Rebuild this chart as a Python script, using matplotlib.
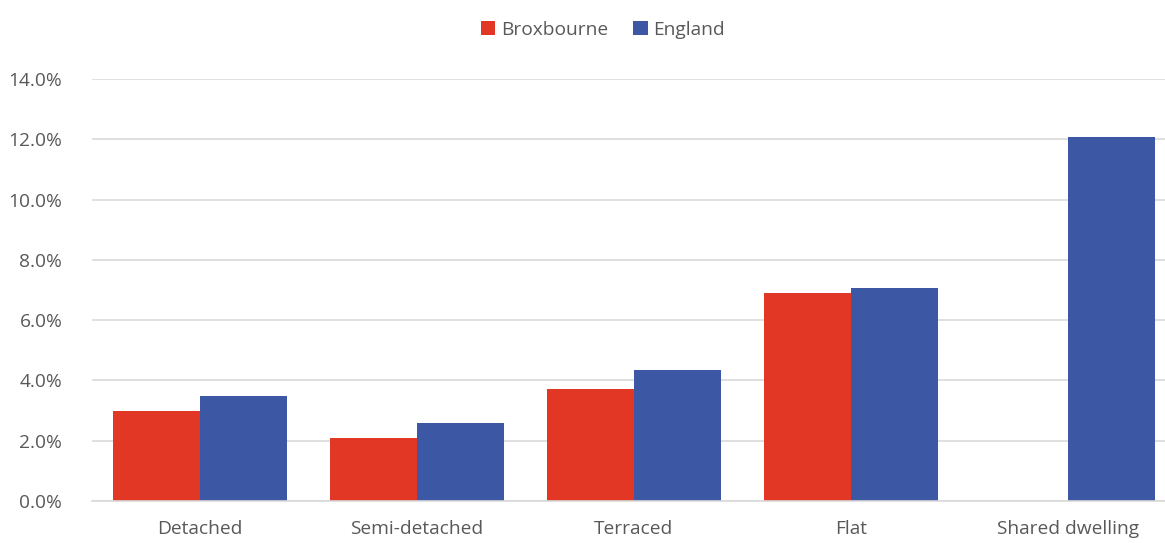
import matplotlib.pyplot as plt
import matplotlib.ticker as tck
import numpy as np

categories = ['Detached', 'Semi-detached', 'Terraced', 'Flat', 'Shared dwelling']
broxbourne = [3.0, 2.1, 3.7, 6.9, 0.0]
england = [3.5, 2.6, 4.35, 7.05, 12.07]

plt.rcParams['font.family'] = ['Open Sans', 'DejaVu Sans']

fig = plt.figure(figsize=(11.65, 5.43), dpi=100)
# axes runs slightly past the right edge, as in the reference
ax = fig.add_axes([91.5 / 1165, 42 / 543, 1085 / 1165, 422 / 543])

x = np.arange(len(categories))
w = 0.4
ax.bar(x - w / 2, broxbourne, w, color='#e33726', label='Broxbourne')
ax.bar(x + w / 2, england, w, color='#3c57a3', label='England')

ax.set_xlim(-0.5, len(categories) - 0.5)
ax.set_ylim(0, 14)
ax.yaxis.set_major_locator(tck.MultipleLocator(2))
ax.yaxis.set_major_formatter(tck.FuncFormatter(lambda v, p: f'{v:.1f}%'))
ax.set_xticks(x)
ax.set_xticklabels(categories)

ax.grid(axis='y', color='#d9d9d9', linewidth=1.2)
ax.set_axisbelow(True)
for s in ['top', 'right', 'left']:
    ax.spines[s].set_visible(False)
ax.spines['bottom'].set_color('#d9d9d9')
ax.spines['bottom'].set_linewidth(1.2)
ax.tick_params(length=0, labelsize=13.8, colors='#595959')
ax.tick_params(axis='y', pad=21)
ax.tick_params(axis='x', pad=14)

fig.legend(loc='upper center', bbox_to_anchor=(603 / 1165, 0.994), ncol=2, frameon=False,
           fontsize=13.8, labelcolor='#595959', handlelength=0.75, handleheight=0.75,
           handletextpad=0.3, columnspacing=1.3)

plt.savefig('out.png')
